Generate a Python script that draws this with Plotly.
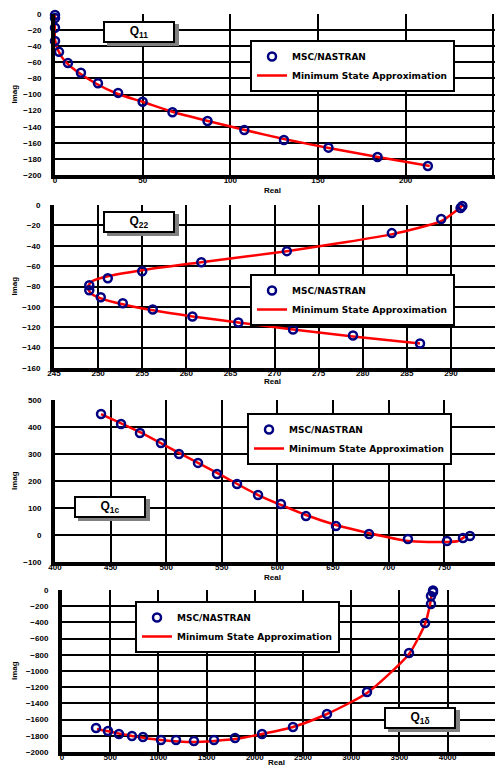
import plotly.graph_objects as go

W, H = 495, 768

# ---------------- data ----------------
# Q11
q11_nas_re = [0, 0, 0, 0, 2.3, 7.4, 14.8, 24.5, 36, 50, 67, 87, 108, 130.6, 156, 184, 212.7]
q11_nas_im = [-1.2, -5, -17, -33.5, -47, -61, -73, -86, -98, -109, -122, -133, -144, -156.5, -166, -177.6, -188.8]
q11_msa_re = [0, 0, 1.7, 5.1, 11.4, 22.8, 35.9, 50.2, 67.3, 87.2, 108.3, 130.6, 156.2, 184.1, 213.8]
q11_msa_im = [0, -32.3, -44.7, -57.1, -69.6, -85.7, -99.4, -109.3, -121.7, -132.9, -144.1, -155.3, -166.5, -177.6, -188.8]

# Q22
q22_nas_re = [286.5, 278.9, 272.1, 265.9, 260.7, 256.2, 252.8, 250.3, 249.0, 249.0,
              251.1, 255.0, 261.7, 271.4, 283.3, 288.9, 291.1, 291.3]
q22_nas_im = [-136.0, -128.1, -122.2, -115.3, -109.4, -102.5, -96.5, -90.6, -83.7, -78.8,
              -71.9, -65.0, -56.2, -45.3, -27.6, -13.8, -3.0, -1.0]
q22_msa_re = [286.5, 278.9, 272.1, 265.9, 260.7, 256.2, 252.8, 250.3, 249.2, 248.8,
              249.3, 251.1, 255.0, 261.7, 271.4, 277.4, 283.4, 288.9, 290.7, 291.5]
q22_msa_im = [-136.0, -129.1, -122.2, -115.3, -109.4, -103.4, -97.5, -91.6, -86.7, -80.8,
              -74.9, -69.9, -64.0, -56.2, -45.3, -37.4, -28.6, -15.8, -4.9, 1.0]

# Q1c
q1c_nas_re = [441.4, 459.4, 476.4, 495.3, 511.5, 528.6, 545.7, 563.7, 582.6, 603.2,
              625.7, 652.7, 682.4, 717.4, 752.5, 766.9, 773.2]
q1c_nas_im = [448, 411, 378, 341, 300, 267, 226, 189, 148, 115, 70, 33, 4, -15, -22, -11, -4]
q1c_msa_re = [441.4, 476.4, 511.5, 545.7, 582.6, 625.7, 652.7, 682.4, 717.4, 752.5, 762.4, 769.6]
q1c_msa_im = [448, 381, 304, 230, 148, 74, 37, 7, -22, -26, -22, -4]

# Q1d
q1d_nas_re = [353, 477, 591, 726, 840, 1027, 1183, 1369, 1577, 1795, 2075, 2396, 2749,
              3164, 3600, 3766, 3828, 3828, 3849, 3849]
q1d_nas_im = [-1704, -1741, -1778, -1802, -1815, -1852, -1852, -1864, -1852, -1827, -1778,
              -1691, -1531, -1259, -778, -407, -173, -74, -25, -5]
q1d_msa_re = [363, 726, 1027, 1369, 1795, 2075, 2396, 2749, 3164, 3600, 3766, 3817, 3838]
q1d_msa_im = [-1716, -1802, -1852, -1877, -1840, -1778, -1691, -1531, -1272, -790, -420, -185, -25]

panel_titles = ["Q<sub>11</sub>", "Q<sub>22</sub>", "Q<sub>1c</sub>", "Q<sub>1δ</sub>"]
name_nas = "MSC/NASTRAN"
name_msa = "Minimum State Approximation"
x_title = "Real"
y_title = "Imag"

# ---------------- layout helpers ----------------
def px(x):
    return x / W

def py(y):
    return 1 - y / H

panels = [
    dict(nas=(q11_nas_re, q11_nas_im), msa=(q11_msa_re, q11_msa_im),
         xd=(55, 495), yd=(14, 175), xr=[0, 251], yr=[-200, 0], dx=50, dy=20,
         leg=(250, 40), tb=(139, 32), xt=(272, 191)),
    dict(nas=(q22_nas_re, q22_nas_im), msa=(q22_msa_re, q22_msa_im),
         xd=(54, 495), yd=(205, 368), xr=[245, 295], yr=[-160, 0], dx=5, dy=20,
         leg=(250, 274), tb=(139, 222), xt=(272, 382)),
    dict(nas=(q1c_nas_re, q1c_nas_im), msa=(q1c_msa_re, q1c_msa_im),
         xd=(55, 495), yd=(400, 562), xr=[400, 795.7], yr=[-100, 500], dx=50, dy=100,
         leg=(247, 413), tb=(110, 507), xt=(272, 577)),
    dict(nas=(q1d_nas_re, q1d_nas_im), msa=(q1d_msa_re, q1d_msa_im),
         xd=(62, 495), yd=(590, 752), xr=[0, 4492], yr=[-2000, 0], dx=500, dy=200,
         leg=(135, 601), tb=(420, 718), xt=(276, 762)),
]

fig = go.Figure()
FONT = "Liberation Sans"
LFONT = "DejaVu Sans"
layout = dict(template="none", width=W, height=H, margin=dict(l=0, r=0, t=0, b=0),
              paper_bgcolor="white", plot_bgcolor="white",
              font=dict(family=FONT, color="black", size=8, weight="bold"))
annotations = []
shapes = []

for i, p in enumerate(panels):
    n = i + 1
    xa = "x" if n == 1 else f"x{n}"
    ya = "y" if n == 1 else f"y{n}"
    lg = "legend" if n == 1 else f"legend{n}"
    fig.add_trace(go.Scatter(
        x=p["msa"][0], y=p["msa"][1], mode="lines", name=name_msa,
        line=dict(color="red", width=2.5, shape="spline", smoothing=0.6),
        xaxis=xa, yaxis=ya, legend=lg, showlegend=True, legendrank=2))
    fig.add_trace(go.Scatter(
        x=p["nas"][0], y=p["nas"][1], mode="markers", name=name_nas,
        marker=dict(symbol="circle-open", size=8, color="#000080", line=dict(width=2.5, color="#000080")),
        xaxis=xa, yaxis=ya, legend=lg, showlegend=True, cliponaxis=False, legendrank=1))

    axkey_x = "xaxis" if n == 1 else f"xaxis{n}"
    axkey_y = "yaxis" if n == 1 else f"yaxis{n}"
    layout[axkey_x] = dict(domain=[px(p["xd"][0]), px(p["xd"][1])], range=p["xr"],
                           anchor=ya, dtick=p["dx"], tick0=p["xr"][0], showgrid=True,
                           gridcolor="#000000", gridwidth=2, showline=True, linecolor="#000000",
                           linewidth=4, zeroline=False, ticks="", automargin=False,
                           ticklabelstandoff=-6,
                           tickfont=dict(size=8, family=FONT, weight="bold"))
    layout[axkey_y] = dict(domain=[py(p["yd"][1]), py(p["yd"][0])], range=p["yr"],
                           anchor=xa, dtick=p["dy"], tick0=p["yr"][0], showgrid=True,
                           gridcolor="#000000", gridwidth=2, showline=True, linecolor="#000000",
                           linewidth=4, zeroline=False, ticks="", automargin=False,
                           ticklabelstandoff=8,
                           tickfont=dict(size=8, family=FONT, weight="bold"))
    layout[lg] = dict(x=px(p["leg"][0]), y=py(p["leg"][1]), xanchor="left", yanchor="top",
                      bgcolor="white", bordercolor="black", borderwidth=2,
                      font=dict(size=9, family=LFONT, weight="bold"), tracegroupgap=0,
                      itemwidth=30, traceorder="normal")

    # title box with shadow
    cx, cy = p["tb"]
    shapes.append(dict(type="rect", xref="paper", yref="paper",
                       x0=px(cx - 36 + 4), x1=px(cx + 36 + 4), y0=py(cy + 11 + 3), y1=py(cy - 11 + 3),
                       fillcolor="#808080", line=dict(width=0), layer="above"))
    annotations.append(dict(xref="paper", yref="paper", x=px(cx), y=py(cy), text=panel_titles[i],
                            showarrow=False, bgcolor="white", bordercolor="black", borderwidth=2,
                            width=66, height=16, xanchor="center", yanchor="middle",
                            font=dict(size=12, family=FONT, weight="bold")))
    # axis titles
    annotations.append(dict(xref="paper", yref="paper", x=px(p["xt"][0]), y=py(p["xt"][1]),
                            text=x_title, showarrow=False, xanchor="center", yanchor="middle",
                            font=dict(size=8, family=FONT, weight="bold")))
    ymid = (p["yd"][0] + p["yd"][1]) / 2
    annotations.append(dict(xref="paper", yref="paper", x=px(14), y=py(ymid),
                            text=y_title, showarrow=False, textangle=-90,
                            xanchor="center", yanchor="middle",
                            font=dict(size=8, family=FONT, weight="bold")))

layout["annotations"] = annotations
layout["shapes"] = shapes
fig.update_layout(**layout)
fig.write_html("out.html", config={"displayModeBar": False},
               post_script="document.body.style.margin='0px';document.body.style.overflow='hidden';")
